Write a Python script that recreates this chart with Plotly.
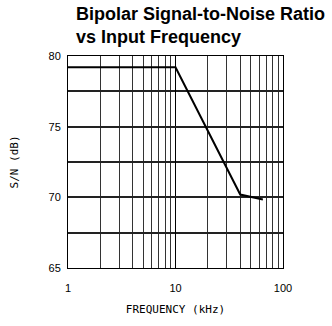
import plotly.graph_objects as go

# Bipolar S/N versus input frequency
freq_khz = [1, 10, 40, 65]
sn_db = [79.2, 79.2, 70.2, 69.85]

x_tick_vals = [1, 10, 100]
x_tick_text = ["1", "10", "100"]
y_tick_vals = [65, 70, 75, 80]

PLOT_H = 326 - 56 - 55
PLOT_W = 332 - 68 - 49

fig = go.Figure()
fig.add_trace(go.Scatter(
    x=freq_khz, y=sn_db, mode="lines",
    line=dict(color="black", width=2),
    showlegend=False,
))

fig.update_layout(
    width=332, height=326,
    margin=dict(l=68, r=49, t=56, b=55),
    paper_bgcolor="white", plot_bgcolor="white",
    font=dict(family="Liberation Sans, Arial, sans-serif", color="black", size=11),
    annotations=[
        dict(text="<b>Bipolar Signal-to-Noise Ratio<br>vs Input Frequency</b>",
             xref="paper", yref="paper",
             x=(74 - 68) / PLOT_W, y=1 + (56 - 1) / PLOT_H,
             xanchor="left", yanchor="top", align="left",
             showarrow=False,
             font=dict(family="Liberation Sans, Arial, sans-serif", size=18, color="black")),
    ],
)

fig.update_xaxes(
    type="log", range=[0, 2],
    tickvals=x_tick_vals, ticktext=x_tick_text,
    ticks="", ticklabelstandoff=10,
    showgrid=True, gridcolor="black", gridwidth=1,
    minor=dict(dtick="D1", showgrid=True, gridcolor="#333333", gridwidth=1, ticks=""),
    showline=True, linecolor="black", linewidth=1, mirror=True,
    zeroline=False,
    title=dict(text="FREQUENCY (kHz)", standoff=12,
               font=dict(family="DejaVu Sans Mono", size=11)),
)

fig.update_yaxes(
    range=[65, 80],
    tickvals=y_tick_vals,
    ticks="", ticklabelstandoff=4,
    showgrid=True, gridcolor="#222222", gridwidth=2,
    minor=dict(dtick=2.5, showgrid=True, gridcolor="#222222", gridwidth=2, ticks=""),
    showline=True, linecolor="black", linewidth=1, mirror=True,
    zeroline=False,
    title=dict(text="S/N (dB)", standoff=27,
               font=dict(family="DejaVu Sans Mono", size=11)),
)

fig.write_html("out.html")
